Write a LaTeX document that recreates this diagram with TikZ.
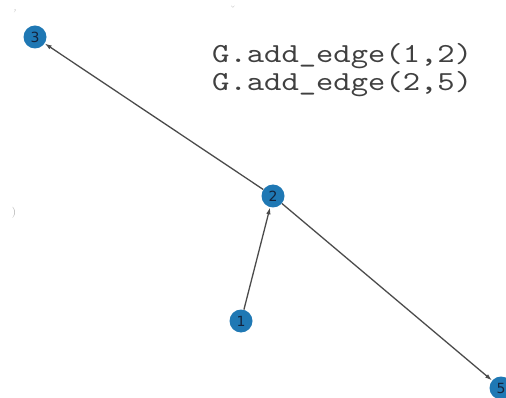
\documentclass[tikz,border=0pt]{standalone}
\usepackage{fontspec}
\usepackage{tikz}
\usetikzlibrary{arrows.meta}
\newfontfamily\codefont[FakeStretch=1.2]{lmmono10-regular.otf}
\newfontfamily\labfont{DejaVu Sans}
\definecolor{nxblue}{HTML}{1F78B4}
\definecolor{edgegray}{RGB}{75, 75, 75}
\definecolor{labink}{RGB}{20, 35, 60}
\tikzset{
  gnode/.style={circle, fill=nxblue, draw=none, minimum size=23pt, inner sep=0pt, font=\labfont\fontsize{14}{14}\selectfont, text=labink},
  garrow/.style={-{Latex[length=7pt, width=4.5pt]}, line width=1.3pt, edgegray},
  codeline/.style={anchor=base west, inner sep=0pt, font=\codefont\fontsize{27.5}{28}\selectfont, text=black!75},
  smudge/.style={inner sep=0pt, text=gray!70, font=\fontsize{11}{11}\selectfont},
}
\begin{document}
\begin{tikzpicture}[x=1pt, y=-1pt]
  \useasboundingbox (0,0) rectangle (506,398);
  \node[gnode] (n3) at (35,37) {3};
  \node[gnode] (n2) at (273,196) {2};
  \node[gnode] (n1) at (241,321) {1};
  \node[gnode] (n5) at (501,388) {5};
  \foreach \i/\j in {n2/n3,n1/n2,n2/n5} \draw[garrow] (\i) -- (\j);
  \node[codeline] (code1) at (212,63) {G.add\_edge(1,2)};
  \node[codeline] (code2) at (212,91) {G.add\_edge(2,5)};
  \node[smudge, rotate=-20] (m1) at (14,13) {'};
  \node[smudge] (m2) at (233,10) {\u{}};
  \node[smudge] (m3) at (14,213) {)};
\end{tikzpicture}
\end{document}
